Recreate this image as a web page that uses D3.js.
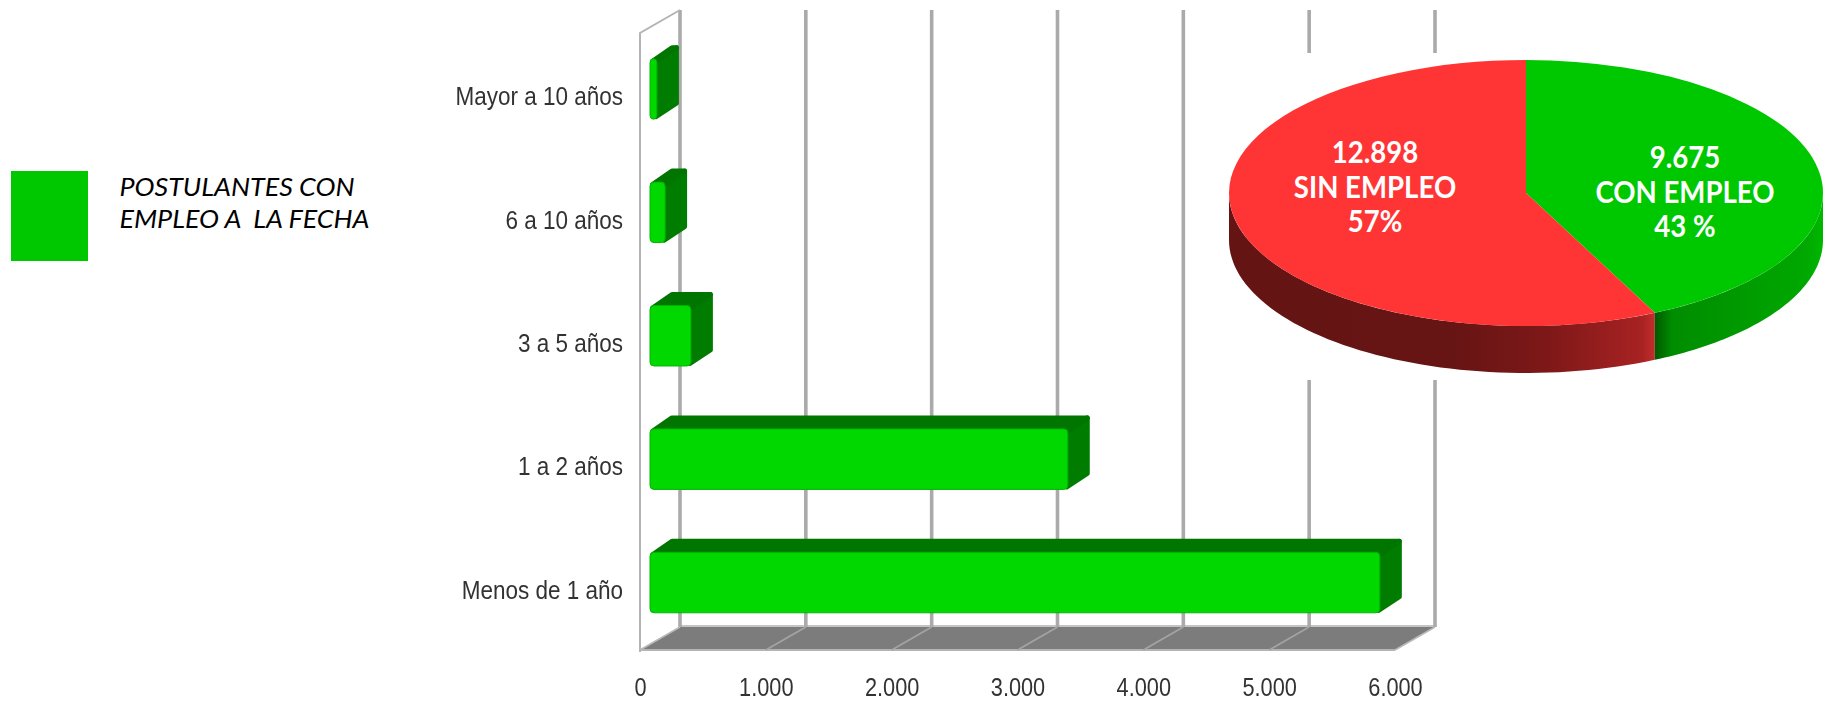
<!DOCTYPE html>
<html><head><meta charset="utf-8">
<script src="https://cdn.jsdelivr.net/npm/d3@7"></script>
<style>html,body{margin:0;padding:0;background:#fff;overflow:hidden}svg{display:block}</style>
</head><body><svg id="c" width="1825" height="701"></svg>
<script>
const categories = ["Mayor a 10 años","6 a 10 años","3 a 5 años","1 a 2 años","Menos de 1 año"];
const barValues = [55,120,325,3320,5800];
const xTicks = [0,1000,2000,3000,4000,5000,6000];
const xTickLabels = ["0","1.000","2.000","3.000","4.000","5.000","6.000"];
const legendLines = ["POSTULANTES CON","EMPLEO A  LA FECHA"];
const pieValues = [9675,12898];
const pieColors = ["#00c800","#ff3535"];
const pieLabels = [["9.675","CON EMPLEO","43 %"],["12.898","SIN EMPLEO","57%"]];

const svg = d3.select("#c");
const defs = svg.append("defs");
defs.append("filter").attr("id","soft").append("feGaussianBlur").attr("stdDeviation",0.6);
defs.append("filter").attr("id","softText").append("feGaussianBlur").attr("stdDeviation",0.35);

// 3D frame
const depth = {x:40,y:-23};
const x = d3.scaleLinear().domain([0,6000]).range([640,1395]);
const y = d3.scaleBand().domain(categories).range([33,650]).paddingInner(0.51).paddingOuter(0.255);
const yTop = y.range()[0], yBot = y.range()[1];
const chart = svg.append("g").attr("filter","url(#soft)");

// floor
const x0=x(0), x1=x(6000);
chart.append("path")
  .attr("d",d3.line()([[x0,yBot],[x0+depth.x,yBot+depth.y],[x1+depth.x,yBot+depth.y],[x1,yBot]])+"Z")
  .attr("fill","#7c7c7c");
chart.append("line").attr("x1",x0+depth.x).attr("x2",x1+depth.x).attr("y1",yBot+depth.y-1).attr("y2",yBot+depth.y-1).attr("stroke","#c4c4c4").attr("stroke-width",2);
chart.append("line").attr("x1",x0).attr("x2",x1).attr("y1",yBot).attr("y2",yBot).attr("stroke","#b4b4b4").attr("stroke-width",2);
// grid lines
chart.selectAll(".g").data(xTicks).join("line")
  .attr("x1",d=>x(d)+depth.x).attr("x2",d=>x(d)+depth.x)
  .attr("y1",yTop+depth.y).attr("y2",yBot+depth.y)
  .attr("stroke","#aaaaaa").attr("stroke-width",3.6);
chart.selectAll(".s").data(xTicks).join("line")
  .attr("x1",d=>x(d)).attr("x2",d=>x(d)+depth.x)
  .attr("y1",yBot).attr("y2",yBot+depth.y)
  .attr("stroke",(d,i)=>i===0||i===xTicks.length-1?"#b8b8b8":"#a4a4a4").attr("stroke-width",1.6);
// left wall edges
chart.append("path").attr("fill","none").attr("stroke","#b4b4b4").attr("stroke-width",2)
  .attr("d",d3.line()([[x0,yBot+2],[x0,yTop],[x0+depth.x,yTop+depth.y]]));

// bars
const barOff = {x:10,y:-5.75}, barD = {x:22,y:-13.5};
const bars = chart.selectAll(".bar").data(categories).join("g");
function rr(pts){return d3.line()(pts)+"Z";}
bars.each(function(c,i){
  const g=d3.select(this);
  const l=x0+barOff.x, r=x(barValues[i])+barOff.x;
  const t=y(c)+barOff.y, b=t+y.bandwidth();
  const ins=2.5;
  // right side
  g.append("path").attr("d",rr([[r-1,t+ins],[r+barD.x-ins,t+barD.y+ins],[r+barD.x-ins,b+barD.y-ins],[r-1,b-ins]]))
   .attr("fill","#007d00").attr("stroke","#007d00").attr("stroke-width",ins*2).attr("stroke-linejoin","round");
  // top
  g.append("path").attr("d",rr([[l+ins,t+ins],[l+barD.x,t+barD.y+ins],[r+barD.x-ins,t+barD.y+ins],[r,t+ins]]))
   .attr("fill","#007400").attr("stroke","#007400").attr("stroke-width",ins*2).attr("stroke-linejoin","round");
  // front
  g.append("rect").attr("x",l).attr("y",t).attr("width",r-l).attr("height",b-t).attr("rx",4)
   .attr("fill","#00d800").attr("stroke","#00b400").attr("stroke-width",1);
});

// axes
const xAxis = svg.append("g").attr("transform",`translate(0,${yBot})`).attr("filter","url(#softText)")
  .call(d3.axisBottom(x).tickValues(xTicks).tickFormat((d,i)=>xTickLabels[i]).tickSize(0));
xAxis.select(".domain").remove();
xAxis.selectAll("text").attr("y",46.5).attr("dy",0).attr("text-anchor","middle")
  .attr("transform","scale(.87,1)")
  .style("font-family","'Liberation Sans'").style("font-size","25px").attr("fill","#333");
const yAxis = svg.append("g").attr("transform",`translate(${x0},0)`).attr("filter","url(#softText)")
  .call(d3.axisLeft(y).tickSize(0));
yAxis.select(".domain").remove();
yAxis.selectAll("text").attr("x",-17/.9).attr("y",10.5).attr("dy",0).attr("text-anchor","end")
  .attr("transform","scale(.9,1)")
  .style("font-family","'Liberation Sans'").style("font-size","25px").attr("fill","#333");

// legend
svg.append("rect").attr("x",11).attr("y",171).attr("width",77).attr("height",90).attr("fill",pieColors[0]);
svg.append("g").selectAll("text").data(legendLines).join("text")
  .attr("transform",(d,i)=>`translate(119.5,${196+i*31.5}) scale(1.075,1)`).style("white-space","pre")
  .style("font-family","Lato").style("font-style","italic").style("font-size","25px").attr("fill","#000").text(d=>d);

// pie
const cx=1526, cy=193, rx=297, ry=133, pd=47;
svg.append("rect").attr("x",1229).attr("y",53).attr("width",596).attr("height",327).attr("fill","#fff");
const arcs = d3.pie().sort(null)(pieValues);
const arc = d3.arc().innerRadius(0).outerRadius(rx);
function arcX(a){return cx+rx*Math.sin(a);}
function arcY(a){return cy-ry*Math.cos(a);}
const gradR = defs.append("linearGradient").attr("id","sideR").attr("gradientUnits","userSpaceOnUse")
  .attr("x1",cx-rx).attr("x2",arcX(arcs[0].endAngle)).attr("y1",0).attr("y2",0);
[[0,"#651414"],[0.52,"#661414"],[0.75,"#7e1818"],[0.97,"#a82222"],[1,"#c42c2c"]].forEach(s=>gradR.append("stop").attr("offset",s[0]).attr("stop-color",s[1]));
const gradG = defs.append("linearGradient").attr("id","sideG").attr("gradientUnits","userSpaceOnUse")
  .attr("x1",arcX(arcs[0].endAngle)).attr("x2",cx+rx).attr("y1",0).attr("y2",0);
[[0,"#005800"],[0.1,"#008c00"],[0.5,"#009a00"],[0.9,"#00a800"],[1,"#00b800"]].forEach(s=>gradG.append("stop").attr("offset",s[0]).attr("stop-color",s[1]));
function side(a0,a1){
  const as=d3.range(0,61).map(k=>a0+(a1-a0)*k/60);
  const top=as.map(a=>[arcX(a),arcY(a)]);
  const bot=as.slice().reverse().map(a=>[arcX(a),arcY(a)+pd]);
  return d3.line()(top.concat(bot))+"Z";
}
const pieG=svg.append("g");
pieG.append("path").attr("d",side(arcs[0].endAngle,1.5*Math.PI)).attr("fill","url(#sideR)");
pieG.append("path").attr("d",side(0.5*Math.PI,arcs[0].endAngle)).attr("fill","url(#sideG)");
pieG.selectAll(".sl").data(arcs).join("path")
  .attr("transform",`translate(${cx},${cy}) scale(1,${ry/rx})`)
  .attr("d",arc).attr("fill",(d,i)=>pieColors[i]);
const labelPos=[[1685,168],[1375,163]];
pieLabels.forEach((lines,i)=>{
  pieG.append("g").selectAll("text").data(lines).join("text")
   .attr("transform",(d,k)=>`translate(${labelPos[i][0]},${labelPos[i][1]+k*34.5}) scale(.92,1)`)
   .attr("text-anchor","middle").attr("fill","#fff")
   .style("font-family","Lato").style("font-weight","700").style("font-size","30px").text(d=>d);
});
</script></body></html>
